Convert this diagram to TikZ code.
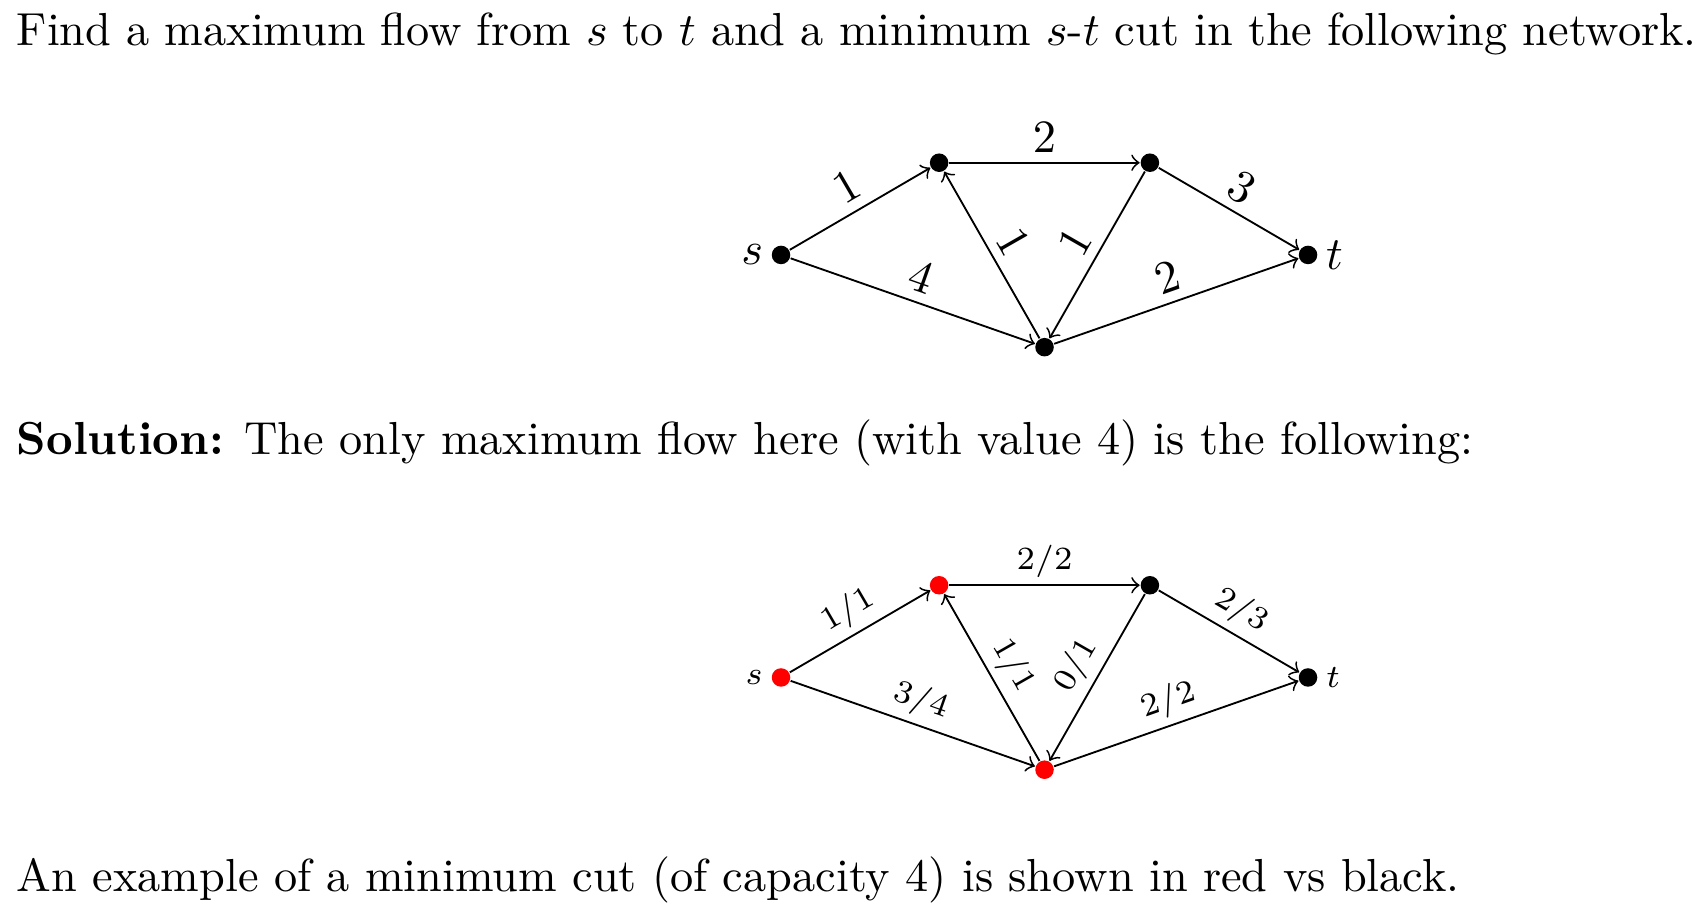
\documentclass[tikz,border=0pt]{standalone}
\tikzset{
	vertex/.style={circle, fill, inner sep=0pt, minimum size=4pt},
	cutvertex/.style={vertex, red},
	capacity/.style={midway, above, sloped, inner sep=2pt},
	flowcap/.style={midway, above, sloped, inner sep=1.5pt},
	textline/.style={anchor=base west, inner sep=0pt, text width=12.75cm, align=justify},
	every label/.style={inner sep=1.5pt},
}
\begin{document}
\begin{tikzpicture}
	\useasboundingbox (0,0) rectangle (12.964,-6.907);
	
	\node[textline] (task) at (0.121,-0.342) {\parfillskip=0pt Find a maximum flow from $s$ to $t$ and a minimum $s$-$t$ cut in the following network.};
	
	% Network
	\begin{scope}[shift={(5.928,-1.935)}]
		\node[vertex, label=left:$s$] (s) at (0,0) {};
		\node[vertex] (a) at (1.2,0.7) {};
		\node[vertex] (b) at (2.8,0.7) {};
		\node[vertex] (c) at (2,-0.7) {};
		\node[vertex, label=right:$t$] (t) at (4,0) {};
		
		\draw[->] (s) -- node[capacity] {$1$} (a);
		\draw[->] (s) -- node[capacity] {$4$} (c);
		\draw[->] (a) -- node[capacity] {$2$} (b);
		\draw[->] (c) -- node[capacity] {$1$} (a);
		\draw[->] (b) -- node[capacity] {$1$} (c);
		\draw[->] (b) -- node[capacity] {$3$} (t);
		\draw[->] (c) -- node[capacity] {$2$} (t);
	\end{scope}
	
	\node[textline] (sol) at (0.121,-3.453) {\textbf{Solution:} The only maximum flow here (with value 4) is the following:};
	
	% Flow and cut
	\begin{scope}[shift={(5.928,-5.142)}, font=\scriptsize]
		\node[cutvertex, label=left:$s$] (s2) at (0,0) {};
		\node[cutvertex] (a2) at (1.2,0.7) {};
		\node[vertex] (b2) at (2.8,0.7) {};
		\node[cutvertex] (c2) at (2,-0.7) {};
		\node[vertex, label=right:$t$] (t2) at (4,0) {};
		
		\draw[->] (s2) -- node[flowcap] {$1/1$} (a2);
		\draw[->] (s2) -- node[flowcap] {$3/4$} (c2);
		\draw[->] (a2) -- node[flowcap] {$2/2$} (b2);
		\draw[->] (c2) -- node[flowcap] {$1/1$} (a2);
		\draw[->] (b2) -- node[flowcap] {$0/1$} (c2);
		\draw[->] (b2) -- node[flowcap] {$2/3$} (t2);
		\draw[->] (c2) -- node[flowcap] {$2/2$} (t2);
	\end{scope}
	
	\node[textline] (cutnote) at (0.121,-6.770) {An example of a minimum cut (of capacity 4) is shown in red vs black.};
\end{tikzpicture}
\end{document}
